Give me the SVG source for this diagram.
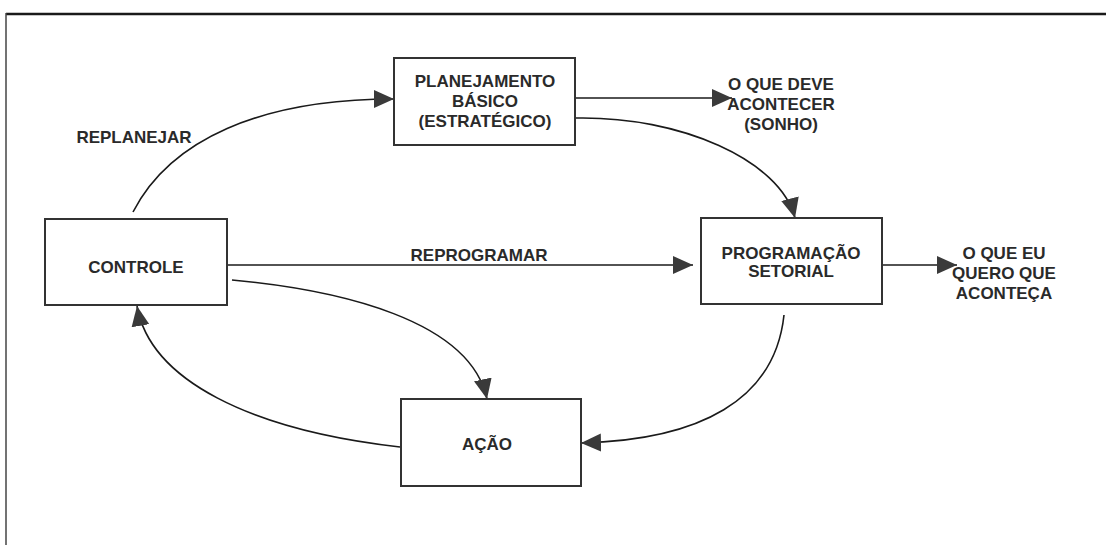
<svg xmlns="http://www.w3.org/2000/svg" width="1106" height="545" viewBox="0 0 1106 545">
<defs>
<style>
.box{fill:#fff;stroke:#333;stroke-width:2}
.t{font-family:"Liberation Sans",Arial,sans-serif;font-weight:bold;font-size:17px;fill:#2a2a2a;text-anchor:middle}
.c{fill:none;stroke:#1a1a1a;stroke-width:1.6}
</style>
<marker id="ah" markerUnits="userSpaceOnUse" markerWidth="22" markerHeight="20" refX="20" refY="9" orient="auto">
<path d="M0,0 L20,9 L0,18 Z" fill="#3a3a3a"/>
</marker>
</defs>
<rect width="1106" height="545" fill="#fff"/>
<g id="frame">
<line x1="6" y1="14" x2="1106" y2="14" stroke="#1a1a1a" stroke-width="2.5"/>
<line x1="6" y1="13" x2="6" y2="545" stroke="#444" stroke-width="1.5"/>
</g>
<g id="connectors">
<path class="c" d="M575,98 L732,98" marker-end="url(#ah)"/>
<path class="c" d="M133,212 C170,140 260,99 394,99" marker-end="url(#ah)"/>
<path class="c" d="M576,118 C680,116 780,160 795,218" marker-end="url(#ah)"/>
<path class="c" d="M227,265 L693,265" marker-end="url(#ah)"/>
<path class="c" d="M882,265 L957,265" marker-end="url(#ah)"/>
<path class="c" d="M232,280 C340,290 470,320 487,399" marker-end="url(#ah)"/>
<path class="c" d="M784,315 C775,400 700,440 581,443" marker-end="url(#ah)"/>
<path class="c" d="M400,447 C250,430 150,380 137,306" marker-end="url(#ah)"/>
</g>
<g id="n-planejamento">
<rect class="box" x="394" y="58" width="181" height="87"/>
<text class="t" x="485" y="87">PLANEJAMENTO</text>
<text class="t" x="485" y="107">BÁSICO</text>
<text class="t" x="485" y="127">(ESTRATÉGICO)</text>
</g>
<g id="n-controle">
<rect class="box" x="45" y="219" width="182" height="86"/>
<text class="t" x="136" y="273">CONTROLE</text>
</g>
<g id="n-programacao">
<rect class="box" x="701" y="218" width="181" height="86"/>
<text class="t" x="791" y="259">PROGRAMAÇÃO</text>
<text class="t" x="791" y="277">SETORIAL</text>
</g>
<g id="n-acao">
<rect class="box" x="401" y="399" width="180" height="87"/>
<text class="t" x="487" y="450">AÇÃO</text>
</g>
<g id="labels">
<text class="t" x="134" y="143">REPLANEJAR</text>
<text class="t" x="479" y="261">REPROGRAMAR</text>
<text class="t" x="781" y="90">O QUE DEVE</text>
<text class="t" x="781" y="110">ACONTECER</text>
<text class="t" x="781" y="130">(SONHO)</text>
<text class="t" x="1004" y="259">O QUE EU</text>
<text class="t" x="1004" y="279">QUERO QUE</text>
<text class="t" x="1004" y="299">ACONTEÇA</text>
</g>
</svg>
